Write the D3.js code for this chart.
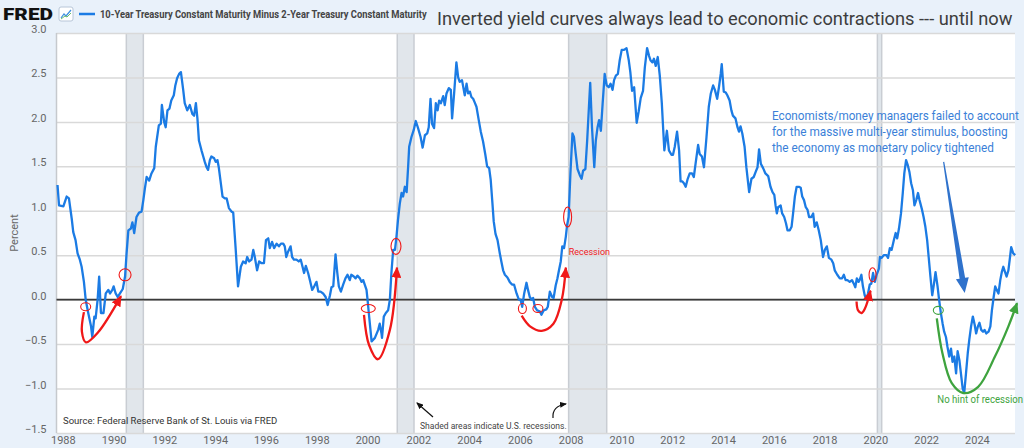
<!DOCTYPE html>
<html>
<head>
<meta charset="utf-8">
<script src="https://cdn.jsdelivr.net/npm/d3@7"></script>
<style>
  html, body { margin: 0; padding: 0; background: #e9f1fa; }
  svg { display: block; font-family: Roboto, "Noto Sans", sans-serif; }
</style>
</head>
<body>
<script>
// 10Y minus 2Y treasury spread (decimal year, percent)
const years = [
  1987.79, 1987.85, 1988.02, 1988.15, 1988.24, 1988.35, 1988.41, 1988.50, 1988.58, 1988.67,
  1988.74, 1988.83, 1988.90, 1989.00, 1989.11, 1989.16, 1989.24, 1989.29, 1989.37, 1989.43,
  1989.50, 1989.60, 1989.69, 1989.79, 1989.86, 1989.95, 1990.00, 1990.08, 1990.16, 1990.25,
  1990.36, 1990.45, 1990.51, 1990.58, 1990.68, 1990.74, 1990.81, 1990.90, 1991.00, 1991.10,
  1991.17, 1991.23, 1991.30, 1991.40, 1991.49, 1991.60, 1991.66, 1991.78, 1991.86, 1991.90,
  1991.99, 1992.05, 1992.12, 1992.20, 1992.27, 1992.37, 1992.43, 1992.50, 1992.58, 1992.65,
  1992.74, 1992.80, 1992.90, 1993.00, 1993.10, 1993.17, 1993.24, 1993.30, 1993.36, 1993.46,
  1993.53, 1993.59, 1993.66, 1993.72, 1993.79, 1993.85, 1993.96, 1994.02, 1994.09, 1994.14,
  1994.29, 1994.38, 1994.45, 1994.54, 1994.65, 1994.71, 1994.80, 1994.90, 1995.01, 1995.10,
  1995.20, 1995.26, 1995.34, 1995.43, 1995.50, 1995.56, 1995.65, 1995.73, 1995.83, 1995.92,
  1996.00, 1996.09, 1996.15, 1996.24, 1996.32, 1996.42, 1996.51, 1996.59, 1996.68, 1996.74,
  1996.80, 1996.87, 1996.97, 1997.03, 1997.10, 1997.20, 1997.29, 1997.37, 1997.44, 1997.50,
  1997.57, 1997.66, 1997.73, 1997.82, 1997.90, 1997.99, 1998.06, 1998.15, 1998.25, 1998.35,
  1998.43, 1998.52, 1998.58, 1998.65, 1998.74, 1998.81, 1998.87, 1998.95, 1999.04, 1999.13,
  1999.21, 1999.30, 1999.36, 1999.46, 1999.53, 1999.60, 1999.70, 1999.76, 1999.83, 1999.89,
  1999.96, 2000.00, 2000.05, 2000.16, 2000.29, 2000.42, 2000.48, 2000.55, 2000.57, 2000.64,
  2000.72, 2000.81, 2000.88, 2000.94, 2001.01, 2001.08, 2001.14, 2001.20, 2001.27, 2001.34,
  2001.40, 2001.47, 2001.54, 2001.60, 2001.64, 2001.73, 2001.82, 2001.90, 2001.99, 2002.09,
  2002.17, 2002.26, 2002.35, 2002.41, 2002.48, 2002.54, 2002.62, 2002.69, 2002.76, 2002.82,
  2002.89, 2002.98, 2003.04, 2003.11, 2003.20, 2003.28, 2003.33, 2003.41, 2003.50, 2003.57,
  2003.63, 2003.72, 2003.83, 2003.90, 2003.96, 2004.03, 2004.09, 2004.16, 2004.22, 2004.29,
  2004.38, 2004.46, 2004.55, 2004.64, 2004.71, 2004.79, 2004.85, 2004.91, 2004.97, 2005.04,
  2005.12, 2005.21, 2005.27, 2005.34, 2005.41, 2005.51, 2005.60, 2005.69, 2005.77, 2005.87,
  2005.96, 2006.03, 2006.09, 2006.17, 2006.26, 2006.32, 2006.39, 2006.46, 2006.52, 2006.59,
  2006.68, 2006.78, 2006.85, 2006.94, 2007.04, 2007.10, 2007.18, 2007.27, 2007.33, 2007.41,
  2007.48, 2007.54, 2007.61, 2007.67, 2007.74, 2007.81, 2007.86, 2007.92, 2007.99, 2008.07,
  2008.13, 2008.20, 2008.27, 2008.36, 2008.43, 2008.49, 2008.58, 2008.65, 2008.72, 2008.77,
  2008.84, 2008.93, 2008.99, 2009.06, 2009.12, 2009.19, 2009.26, 2009.34, 2009.42, 2009.50,
  2009.57, 2009.65, 2009.71, 2009.78, 2009.86, 2009.93, 2010.01, 2010.10, 2010.20, 2010.29,
  2010.35, 2010.42, 2010.50, 2010.60, 2010.68, 2010.76, 2010.85, 2010.92, 2011.01, 2011.09,
  2011.15, 2011.22, 2011.28, 2011.35, 2011.43, 2011.51, 2011.59, 2011.64, 2011.69, 2011.74,
  2011.79, 2011.87, 2011.97, 2012.03, 2012.10, 2012.19, 2012.27, 2012.33, 2012.40, 2012.46,
  2012.53, 2012.60, 2012.69, 2012.78, 2012.85, 2012.92, 2013.02, 2013.08, 2013.17, 2013.25,
  2013.35, 2013.44, 2013.52, 2013.61, 2013.68, 2013.77, 2013.84, 2013.91, 2013.95, 2014.03,
  2014.11, 2014.17, 2014.26, 2014.33, 2014.39, 2014.49, 2014.57, 2014.63, 2014.69, 2014.76,
  2014.85, 2014.92, 2014.99, 2015.03, 2015.12, 2015.21, 2015.29, 2015.36, 2015.42, 2015.49,
  2015.58, 2015.67, 2015.78, 2015.87, 2015.95, 2016.02, 2016.07, 2016.12, 2016.17, 2016.27,
  2016.33, 2016.41, 2016.48, 2016.54, 2016.63, 2016.70, 2016.76, 2016.83, 2016.90, 2016.99,
  2017.06, 2017.12, 2017.19, 2017.26, 2017.33, 2017.39, 2017.48, 2017.55, 2017.61, 2017.69,
  2017.77, 2017.85, 2017.94, 2018.01, 2018.09, 2018.17, 2018.27, 2018.34, 2018.40, 2018.50,
  2018.60, 2018.69, 2018.76, 2018.83, 2018.90, 2018.99, 2019.08, 2019.15, 2019.21, 2019.27,
  2019.34, 2019.38, 2019.45, 2019.51, 2019.58, 2019.65, 2019.71, 2019.78, 2019.84, 2019.91,
  2019.98, 2020.05, 2020.14, 2020.18, 2020.24, 2020.33, 2020.44, 2020.50, 2020.57, 2020.64,
  2020.73, 2020.80, 2020.86, 2020.93, 2021.01, 2021.08, 2021.14, 2021.21, 2021.28, 2021.34,
  2021.41, 2021.48, 2021.54, 2021.61, 2021.68, 2021.74, 2021.84, 2021.90, 2021.97, 2022.04,
  2022.10, 2022.17, 2022.24, 2022.31, 2022.37, 2022.45, 2022.51, 2022.58, 2022.65, 2022.71,
  2022.78, 2022.84, 2022.91, 2022.98, 2023.04, 2023.11, 2023.18, 2023.24, 2023.31, 2023.37,
  2023.44, 2023.50, 2023.57, 2023.64, 2023.70, 2023.77, 2023.84, 2023.91, 2023.97, 2024.04,
  2024.10, 2024.17, 2024.24, 2024.30, 2024.37, 2024.46, 2024.53, 2024.59, 2024.66, 2024.72,
  2024.78, 2024.85, 2024.92, 2024.98, 2025.04, 2025.11, 2025.17, 2025.24, 2025.30, 2025.35,
  2025.43, 2025.51
];
const spread = [
  1.29, 1.06, 1.05, 1.16, 1.14, 0.91, 0.76, 0.67, 0.52, 0.45,
  0.37, 0.20, 0.00, -0.15, -0.30, -0.42, -0.19, -0.21, 0.00, 0.26,
  -0.15, -0.15, 0.07, 0.11, 0.07, 0.11, 0.15, 0.07, 0.03, 0.07,
  0.12, 0.26, 0.52, 0.78, 0.80, 0.87, 0.75, 0.93, 0.98, 0.99,
  1.12, 1.25, 1.38, 1.34, 1.42, 1.48, 1.72, 1.96, 1.98, 2.19,
  2.00, 1.94, 2.13, 2.15, 2.24, 2.30, 2.41, 2.49, 2.54, 2.56,
  2.36, 2.21, 2.13, 2.19, 2.09, 2.07, 2.21, 2.04, 1.79, 1.68,
  1.61, 1.55, 1.49, 1.46, 1.57, 1.61, 1.59, 1.55, 1.57, 1.49,
  1.16, 1.14, 1.14, 1.03, 0.99, 0.98, 0.60, 0.15, 0.37, 0.43,
  0.41, 0.48, 0.43, 0.45, 0.56, 0.48, 0.33, 0.43, 0.41, 0.41,
  0.67, 0.69, 0.58, 0.65, 0.58, 0.63, 0.60, 0.63, 0.63, 0.60,
  0.48, 0.54, 0.60, 0.48, 0.45, 0.45, 0.43, 0.45, 0.37, 0.30,
  0.38, 0.30, 0.22, 0.11, 0.15, 0.20, 0.09, 0.09, 0.07, 0.03,
  -0.06, 0.05, 0.14, 0.15, 0.51, 0.30, 0.15, 0.09, 0.17, 0.24,
  0.28, 0.22, 0.28, 0.26, 0.24, 0.27, 0.24, 0.20, 0.22, 0.17,
  0.11, 0.00, -0.15, -0.47, -0.43, -0.34, -0.27, -0.38, -0.43, -0.19,
  -0.15, -0.12, 0.00, 0.30, 0.56, 0.56, 0.71, 0.90, 1.08, 1.20,
  1.16, 1.27, 1.21, 1.50, 1.72, 1.83, 1.91, 2.01, 1.93, 1.83,
  1.71, 1.85, 1.87, 1.94, 2.26, 1.98, 1.93, 2.21, 2.13, 2.24,
  2.21, 2.29, 2.19, 2.32, 2.38, 2.36, 2.04, 2.32, 2.67, 2.50,
  2.45, 2.47, 2.30, 2.43, 2.32, 2.34, 2.28, 2.26, 2.22, 2.17,
  2.02, 1.89, 1.78, 1.63, 1.50, 1.48, 1.35, 1.12, 0.88, 0.74,
  0.67, 0.52, 0.43, 0.33, 0.28, 0.25, 0.20, 0.17, 0.17, 0.07,
  0.00, 0.00, -0.08, 0.07, 0.19, 0.11, 0.03, 0.00, 0.02, -0.08,
  -0.12, -0.13, -0.17, -0.12, -0.11, -0.08, 0.09, 0.03, 0.02, 0.16,
  0.24, 0.33, 0.43, 0.60, 0.58, 0.71, 0.84, 0.93, 1.42, 1.87,
  1.83, 1.64, 1.47, 1.40, 1.36, 1.45, 1.47, 1.79, 2.17, 2.44,
  1.94, 1.49, 1.79, 1.94, 2.02, 1.90, 2.21, 2.54, 2.41, 2.39,
  2.43, 2.36, 2.47, 2.52, 2.54, 2.69, 2.81, 2.81, 2.83, 2.69,
  2.56, 2.35, 2.39, 1.99, 2.12, 2.27, 2.35, 2.61, 2.83, 2.74,
  2.69, 2.67, 2.71, 2.63, 2.73, 2.52, 2.21, 1.94, 1.68, 1.79,
  1.90, 1.68, 1.63, 1.63, 1.72, 1.89, 1.68, 1.33, 1.33, 1.31,
  1.27, 1.35, 1.42, 1.42, 1.38, 1.53, 1.74, 1.64, 1.61, 1.49,
  1.83, 2.17, 2.32, 2.41, 2.36, 2.26, 2.39, 2.54, 2.65, 2.34,
  2.33, 2.30, 2.24, 2.13, 2.07, 2.04, 1.94, 1.89, 1.95, 1.87,
  1.72, 1.49, 1.31, 1.21, 1.36, 1.38, 1.44, 1.49, 1.69, 1.53,
  1.48, 1.42, 1.39, 1.27, 1.21, 1.18, 1.06, 0.97, 1.04, 1.06,
  0.97, 0.93, 0.86, 0.78, 0.78, 0.82, 0.97, 1.16, 1.27, 1.27,
  1.26, 1.16, 1.12, 1.04, 1.01, 0.93, 0.93, 0.97, 0.82, 0.87,
  0.78, 0.67, 0.48, 0.56, 0.60, 0.47, 0.45, 0.41, 0.33, 0.28,
  0.24, 0.24, 0.28, 0.22, 0.22, 0.20, 0.22, 0.18, 0.14, 0.24,
  0.20, 0.22, 0.28, 0.15, 0.05, 0.00, 0.07, 0.17, 0.18, 0.30,
  0.20, 0.28, 0.35, 0.48, 0.47, 0.50, 0.50, 0.47, 0.58, 0.56,
  0.67, 0.75, 0.69, 0.80, 0.97, 1.20, 1.42, 1.57, 1.51, 1.44,
  1.31, 1.23, 1.06, 1.12, 1.20, 1.12, 1.01, 0.93, 0.82, 0.67,
  0.48, 0.26, 0.05, 0.18, 0.31, 0.15, 0.00, -0.15, -0.27, -0.36,
  -0.42, -0.53, -0.64, -0.55, -0.70, -0.64, -0.83, -0.58, -0.68, -0.83,
  -1.00, -1.05, -0.83, -0.60, -0.45, -0.30, -0.19, -0.28, -0.38, -0.30,
  -0.26, -0.34, -0.36, -0.34, -0.38, -0.36, -0.30, -0.12, 0.03, 0.15,
  0.11, 0.07, 0.22, 0.31, 0.37, 0.31, 0.26, 0.33, 0.47, 0.59,
  0.52, 0.50
];

// NBER recessions (decimal years)
const recessionStart = [1990.50, 2001.17, 2007.92, 2020.08];
const recessionEnd = [1991.17, 2001.83, 2009.42, 2020.25];

const yTicks = [-1.5, -1.0, -0.5, 0.0, 0.5, 1.0, 1.5, 2.0, 2.5, 3.0];
const xTicks = [1988, 1990, 1992, 1994, 1996, 1998, 2000, 2002, 2004, 2006,
  2008, 2010, 2012, 2014, 2016, 2018, 2020, 2022, 2024];

const seriesName = "10-Year Treasury Constant Maturity Minus 2-Year Treasury Constant Maturity";
const chartTitle = "Inverted yield curves always lead to economic contractions --- until now";

const width = 1024, height = 448;
const plot = { left: 56.5, right: 1015, top: 33, bottom: 433 };

const svg = d3.select("body")
  .append("svg")
  .attr("width", width)
  .attr("height", height);

svg.append("rect")
  .attr("width", width)
  .attr("height", height)
  .attr("fill", "#e9f1fa");

const x = d3.scaleLinear().domain([1987.75, 2025.5]).range([plot.left, plot.right]);
const y = d3.scaleLinear().domain([-1.5, 3]).range([plot.bottom, plot.top]);

// squeeze a text horizontally so it spans w pixels (keeps its box honest)
function fitText(sel, w) {
  const len = sel.node().getComputedTextLength();
  const x0 = +sel.attr("x"), y0 = +sel.attr("y");
  sel.attr("x", 0).attr("y", 0)
    .attr("transform", `translate(${x0},${y0}) scale(${w / len},1)`);
  return sel;
}

// plot background
svg.append("rect")
  .attr("x", plot.left)
  .attr("y", plot.top)
  .attr("width", plot.right - plot.left)
  .attr("height", plot.bottom - plot.top)
  .attr("fill", "#ffffff");

// recession shading
const bands = svg.append("g");
recessionStart.forEach((s, i) => {
  const e = recessionEnd[i];
  bands.append("rect")
    .attr("x", x(s))
    .attr("y", plot.top)
    .attr("width", x(e) - x(s))
    .attr("height", plot.bottom - plot.top)
    .attr("fill", "#e1e6eb");
  [s, e].forEach((v) => {
    bands.append("line")
      .attr("x1", x(v)).attr("x2", x(v))
      .attr("y1", plot.top).attr("y2", plot.bottom)
      .attr("stroke", "#c9cdd3")
      .attr("stroke-width", 1.5);
  });
});

// gridlines + y labels
const yAxis = d3.axisLeft(y).tickValues(yTicks).tickFormat(d3.format(".1f"))
  .tickSize(-(plot.right - plot.left)).tickPadding(10);
svg.append("g")
  .attr("transform", `translate(${plot.left},0)`)
  .call(yAxis)
  .call((g) => g.select(".domain").remove())
  .call((g) => g.selectAll(".tick line").attr("stroke", "#d9d9d9").attr("stroke-width", 1.5))
  .call((g) => g.selectAll(".tick text")
    .attr("x", -10).attr("dy", "-0.05em")
    .attr("fill", "#666").style("font-size", "11px").style("font-family", "Roboto"));

// left plot border
svg.append("line")
  .attr("x1", plot.left).attr("x2", plot.left)
  .attr("y1", plot.top).attr("y2", plot.bottom)
  .attr("stroke", "#c6c9cd").attr("stroke-width", 1.5);

// x axis labels
const xAxis = d3.axisBottom(x).tickValues(xTicks).tickFormat(d3.format("d")).tickSize(0).tickPadding(3);
svg.append("g")
  .attr("transform", `translate(0,${plot.bottom})`)
  .call(xAxis)
  .call((g) => g.select(".domain").remove())
  .call((g) => g.selectAll(".tick text")
    .attr("fill", "#666").style("font-size", "11px").style("font-family", "Roboto"));

// zero line
svg.append("line")
  .attr("x1", plot.left).attr("x2", plot.right)
  .attr("y1", y(0)).attr("y2", y(0))
  .attr("stroke", "#3a3a3a").attr("stroke-width", 1.6);

// the series
const lineFunc = d3.line().x((d) => x(d[0])).y((d) => y(d[1]));
svg.append("path")
  .datum(d3.zip(years, spread))
  .attr("d", lineFunc)
  .attr("fill", "none")
  .attr("stroke", "#1b7be4")
  .attr("stroke-width", 2.3)
  .attr("stroke-linejoin", "round");

// y label
svg.append("text")
  .attr("transform", "translate(18,233) rotate(-90)")
  .attr("text-anchor", "middle")
  .attr("fill", "#666")
  .style("font-size", "11px")
  .text("Percent");

// header
fitText(svg.append("text")
  .attr("x", 3).attr("y", 20)
  .attr("fill", "#111")
  .style("font-size", "17px").style("font-weight", "900")
  .text("FRED"), 50);
const icon = svg.append("g").attr("transform", "translate(59,7)");
icon.append("rect").attr("width", 14).attr("height", 14).attr("rx", 2)
  .attr("fill", "#fff").attr("stroke", "#b8c6d8");
icon.append("path").attr("d", "M2,11 L5,7 L7,9 L12,3").attr("fill", "none")
  .attr("stroke", "#3d8fe0").attr("stroke-width", 1.2);
icon.append("path").attr("d", "M2,12 L6,9 L8,10 L12,6").attr("fill", "none")
  .attr("stroke", "#6cbf6c").attr("stroke-width", 1);
svg.append("line").attr("x1", 79).attr("x2", 95).attr("y1", 14).attr("y2", 14)
  .attr("stroke", "#1b7be4").attr("stroke-width", 2.5);
fitText(svg.append("text")
  .attr("x", 100).attr("y", 18)
  .attr("fill", "#444")
  .style("font-size", "11px").style("font-weight", "bold")
  .text(seriesName), 327);
fitText(svg.append("text")
  .attr("x", 437).attr("y", 25)
  .attr("fill", "#3d3d3d")
  .style("font-size", "18px")
  .text(chartTitle), 576);

// ---------- annotations ----------
const defs = svg.append("defs");
function marker(id, color, w, l) {
  defs.append("marker")
    .attr("id", id)
    .attr("viewBox", `0 ${-w / 2} ${l} ${w}`)
    .attr("refX", l - 1).attr("refY", 0)
    .attr("markerUnits", "userSpaceOnUse")
    .attr("markerWidth", l).attr("markerHeight", w)
    .attr("orient", "auto")
    .append("path")
    .attr("d", `M0,${-w / 2} L${l},0 L0,${w / 2} Z`)
    .attr("fill", color);
}
marker("redHead", "#f01818", 10, 11);
marker("greenHead", "#3ea33e", 10, 11);
marker("blackHead", "#111", 6, 7);

const curve = d3.line().x((d) => x(d[0])).y((d) => y(d[1])).curve(d3.curveCatmullRom);

function ellipse(yr, v, rx, ry, color) {
  svg.append("ellipse")
    .attr("cx", x(yr)).attr("cy", y(v))
    .attr("rx", rx).attr("ry", ry)
    .attr("fill", "none").attr("stroke", color).attr("stroke-width", 1.1);
}
function arrowCurve(pts, color, head) {
  svg.append("path")
    .attr("d", curve(pts))
    .attr("fill", "none")
    .attr("stroke", color)
    .attr("stroke-width", 2.3)
    .attr("marker-end", `url(#${head})`);
}

const red = "#f01818";
// 1989
ellipse(1988.90, -0.08, 5, 4, red);
ellipse(1990.45, 0.28, 6, 6, red);
arrowCurve([[1988.83, -0.14], [1988.75, -0.36], [1988.91, -0.48], [1989.38, -0.37], [1990.29, 0.04]], red, "redHead");
// 2000
ellipse(2000.03, -0.10, 7, 4, red);
ellipse(2001.12, 0.60, 5, 8, red);
arrowCurve([[1999.86, -0.17], [2000.06, -0.51], [2000.41, -0.67], [2000.88, -0.34], [2001.16, 0.36]], red, "redHead");
// 2006
ellipse(2006.10, -0.10, 4, 5, red);
ellipse(2006.71, -0.10, 5, 4, red);
ellipse(2007.88, 0.93, 4, 10, red);
arrowCurve([[2006.07, -0.18], [2006.40, -0.30], [2006.86, -0.35], [2007.32, -0.27], [2007.65, 0.0], [2007.81, 0.36]], red, "redHead");
svg.append("text")
  .attr("x", x(2007.92)).attr("y", y(0.54)).attr("dy", "0.35em")
  .attr("fill", red).style("font-size", "9px")
  .text("Recession");
// 2019
ellipse(2019.89, 0.28, 3.5, 7, red);
arrowCurve([[2019.26, -0.02], [2019.32, -0.12], [2019.46, -0.15], [2019.59, -0.10], [2019.81, 0.10]], red, "redHead");

// green: 2022
const green = "#3ea33e";
ellipse(2022.48, -0.12, 5, 4, green);
arrowCurve([[2022.42, -0.21], [2022.64, -0.60], [2023.01, -0.94], [2023.46, -1.05], [2024.05, -0.98],
  [2024.71, -0.64], [2025.24, -0.30], [2025.58, -0.04]], green, "greenHead");
fitText(svg.append("text")
  .attr("x", x(2022.44)).attr("y", y(-1.12) + 3.5)
  .attr("fill", green).style("font-size", "10px")
  .text("No hint of recession"), 86);

// blue note + tapered arrow
const blue = "#2f72cc";
const note = [
  "Economists/money managers failed to account",
  "for the massive multi-year stimulus, boosting",
  "the economy as monetary policy tightened"
];
const noteWidths = [247, 236, 222];
note.forEach((line, i) => {
  fitText(svg.append("text")
    .attr("x", x(2015.93))
    .attr("y", 120 + i * 16)
    .attr("fill", "#3b7fd8")
    .style("font-size", "12.5px")
    .text(line), noteWidths[i]);
});

const S = [x(2022.69), y(1.55)], E = [x(2023.52), y(0.075)];
const len = Math.hypot(E[0] - S[0], E[1] - S[1]);
const u = [(E[0] - S[0]) / len, (E[1] - S[1]) / len];
const n = [-u[1], u[0]];
const B = [E[0] - u[0] * 15, E[1] - u[1] * 15];
const pt = (p, k) => [p[0] + n[0] * k, p[1] + n[1] * k];
svg.append("polygon")
  .attr("points", [pt(S, 0.6), pt(B, 2.8), pt(B, 6.5), E, pt(B, -6.5), pt(B, -2.8), pt(S, -0.6)]
    .map((p) => p.join(",")).join(" "))
  .attr("fill", blue);

// footnotes
svg.append("text")
  .attr("x", 63).attr("y", 424)
  .attr("fill", "#333").style("font-size", "9.5px")
  .text("Source: Federal Reserve Bank of St. Louis via FRED");
fitText(svg.append("text")
  .attr("x", 420).attr("y", 429)
  .attr("fill", "#444").style("font-size", "9.5px")
  .text("Shaded areas indicate U.S. recessions."), 147);
svg.append("path")
  .attr("d", "M433,417 L417,403")
  .attr("stroke", "#111").attr("stroke-width", 1.2).attr("fill", "none")
  .attr("marker-end", "url(#blackHead)");
svg.append("path")
  .attr("d", "M553,418 Q552,406 566,404")
  .attr("stroke", "#111").attr("stroke-width", 1.2).attr("fill", "none")
  .attr("marker-end", "url(#blackHead)");
</script>
</body>
</html>
